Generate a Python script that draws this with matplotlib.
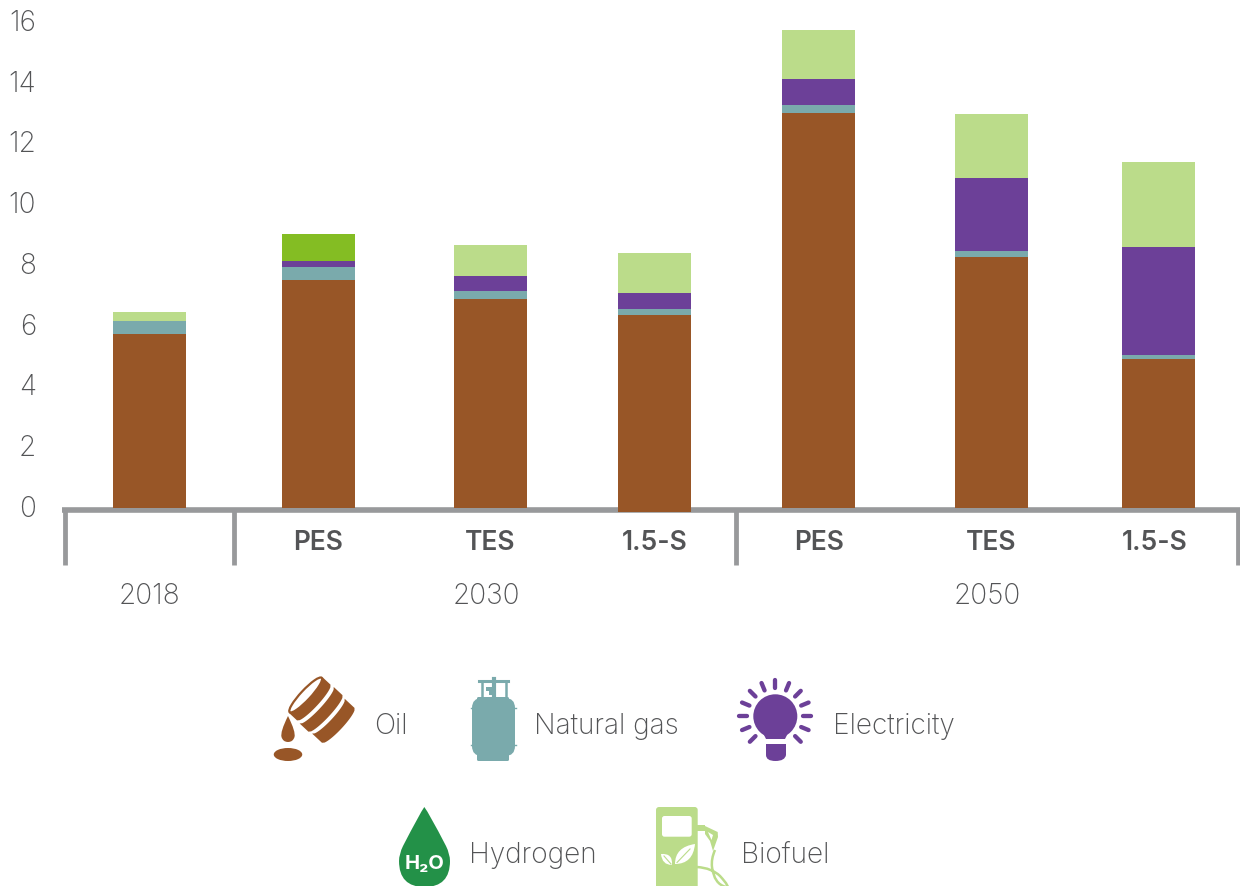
import numpy as np
import matplotlib
matplotlib.use("agg")
import matplotlib.pyplot as plt
from matplotlib.patches import Ellipse, FancyBboxPatch, PathPatch, Polygon
from matplotlib.path import Path
from matplotlib.transforms import Affine2D, offset_copy

plt.rcParams["font.family"] = ["Inter", "DejaVu Sans"]

bar_labels = ["", "PES", "TES", "1.5-S", "PES", "TES", "1.5-S"]
oil = [5.72, 7.50, 6.875, 6.35, 12.99, 8.26, 4.90]
oil_below = [0, 0, 0, -0.13, 0, 0, 0]
gas = [0.43, 0.43, 0.265, 0.20, 0.27, 0.19, 0.13]
electricity = [0, 0.195, 0.49, 0.52, 0.85, 2.41, 3.56]
hydrogen = [0, 0.885, 0, 0, 0, 0, 0]
biofuel = [0.30, 0, 1.02, 1.32, 1.61, 2.10, 2.79]

year_labels = ["2018", "2030", "2050"]

# horizontal layout in pixels of the 1240 wide canvas
bar_x = [149.5, 318.5, 490.5, 654.5, 818.5, 991.5, 1158.5]
label_x = [149.5, 318.5, 490.5, 654.5, 819.5, 991.5, 1155]
year_x = [149.5, 486, 987]
divider_x = [64.5, 233.5, 735.5, 1238]

BROWN = "#985627"
TEAL = "#7aaaac"
PURPLE = "#6c4098"
LIME = "#84bd23"
PALE = "#bbdc8a"
DROP = "#239148"
TEXT = "#535456"
AXIS = "#98999b"

W, H = 1240, 887
ZERO_Y = 508.7
PX_PER_UNIT = 30.4
PT = 0.72  # points per pixel at dpi 100
LABEL_SIZE = 20.2

fig = plt.figure(figsize=(W / 100, H / 100), dpi=100)
ax = fig.add_axes([62 / W, (H - ZERO_Y) / H, (W - 62) / W, ZERO_Y / H])
ax.set_xlim(62, 1240)
ax.set_ylim(0, ZERO_Y / PX_PER_UNIT)
ax.patch.set_alpha(0)

bottom = np.zeros(len(oil))
for values, colour in [(oil, BROWN), (gas, TEAL), (electricity, PURPLE),
                       (hydrogen, LIME), (biofuel, PALE)]:
    ax.bar(bar_x, values, 73, bottom=bottom, color=colour, linewidth=0, zorder=3)
    bottom += np.array(values)
ax.bar(bar_x, oil_below, 73, color=BROWN, linewidth=0, zorder=4, clip_on=False)

for side in ["top", "left", "right"]:
    ax.spines[side].set_visible(False)
ax.spines["bottom"].set_position(("outward", 2.2 * PT))
ax.spines["bottom"].set_linewidth(5.6 * PT)
ax.spines["bottom"].set_color(AXIS)
ax.spines["bottom"].set_capstyle("butt")

ax.set_yticks(range(0, 17, 2))
ax.tick_params(axis="y", length=0, pad=26 * PT, labelsize=LABEL_SIZE, labelcolor=TEXT)
ax.set_xticks(label_x, bar_labels)
ax.tick_params(axis="x", length=0, pad=19.3 * PT, labelsize=19, labelcolor=TEXT)
for lab in ax.get_xticklabels():
    lab.set_fontweight("semibold")
for lab in ax.get_yticklabels():
    lab.set_fontweight("light")
    lab.set_transform(offset_copy(lab.get_transform(), fig=fig, y=2.1, units="dots"))

drop = -(566 - ZERO_Y) / PX_PER_UNIT
ax.vlines(divider_x, 0, drop, color=AXIS, linewidth=4.8 * PT, clip_on=False, zorder=2)
for x, lab in zip(year_x, year_labels):
    ax.text(x, -(597 - ZERO_Y) / PX_PER_UNIT, lab, ha="center", va="center",
            fontsize=LABEL_SIZE, fontweight="light", color=TEXT, clip_on=False)

# legend drawn on an overlay measured in canvas pixels
lg = fig.add_axes([0, 0, 1, 1])
lg.set_xlim(0, W)
lg.set_ylim(H, 0)
lg.axis("off")


def leg_text(x, y, s):
    lg.text(x, y, s, ha="left", va="center", fontsize=LABEL_SIZE, fontweight="light", color=TEXT)


def smooth(pts, **kw):
    # quadratic outline: pts alternate on-curve / control points
    codes = [Path.MOVETO] + [Path.CURVE3] * (len(pts) - 1)
    return PathPatch(Path(pts, codes), **kw)


# oil barrel, built along its own axis then tipped over
tip = Affine2D().rotate_deg(43).translate(305.7, 696) + lg.transData
v = np.linspace(-1, 1, 25)
for u0, u1 in [(0, 11), (15, 27), (31, 44.5)]:
    front = u1 + 4.5 * np.sqrt(1 - v ** 2)
    back = u0 + 4.5 * np.sqrt(1 - v ** 2)
    half = 23.5 + 1.5 * np.sin(np.pi * np.clip(u1 / 48, 0, 1))
    pts = np.r_[np.c_[front, v * half], np.c_[back[::-1], v[::-1] * half]]
    lg.add_patch(Polygon(pts, color=BROWN, linewidth=0, transform=tip))
lg.add_patch(Ellipse((0, 0), 10, 47, fc="white", ec=BROWN, lw=1.6, transform=tip))
lg.add_patch(smooth([(288, 717), (280, 733), (281.5, 738), (283, 743), (288, 743),
                     (293, 743), (294.5, 738), (296, 733), (288, 717)], fc=BROWN, lw=0))
lg.add_patch(Ellipse((288, 755.5), 28.5, 13, color=BROWN, lw=0))
leg_text(374, 727, "Oil")

# gas bottle
lg.add_patch(FancyBboxPatch((477, 698), 32, 64, boxstyle="round,pad=0,rounding_size=1.5",
                            fc=TEAL, lw=0))
lg.add_patch(FancyBboxPatch((472, 699), 43, 58, boxstyle="round,pad=0,rounding_size=10",
                            fc=TEAL, lw=0))
lg.plot([479, 508], [682, 682], color=TEAL, lw=2.2)
lg.plot([481.5, 481.5], [682, 700], color=TEAL, lw=1.8)
lg.plot([505.5, 505.5], [682, 700], color=TEAL, lw=1.8)
lg.plot([493.5, 493.5], [680, 700], color=TEAL, lw=3)
lg.add_patch(Polygon([(486, 688), (493, 688), (493, 696), (489, 696), (489, 692), (486, 692)],
                     color=TEAL, lw=0))
lg.plot([471, 516], [709, 709], color=TEAL, lw=1)
lg.plot([471, 516], [746, 746], color=TEAL, lw=1)
leg_text(534, 727, "Natural gas")

# light bulb with rays
ray_angles = np.radians(np.arange(-45, 226, 22.5))
for a in ray_angles:
    lg.plot([775.3 + 28 * np.cos(a), 775.3 + 36 * np.cos(a)],
            [717.3 - 28 * np.sin(a), 717.3 - 36 * np.sin(a)],
            color=PURPLE, lw=3.1, solid_capstyle="round")
lg.add_patch(Ellipse((775.3, 717.3), 44, 44, color=PURPLE, lw=0))
lg.add_patch(Polygon([(760, 728), (791, 728), (785, 740), (766, 740)], color=PURPLE, lw=0))
lg.add_patch(smooth([(766, 745), (786, 745), (786, 745), (786, 756), (786, 756),
                     (785, 762), (775.5, 762), (766, 762), (766, 756), (766, 756), (766, 745)],
                    fc=PURPLE, lw=0))
leg_text(833, 727, "Electricity")

# water drop, runs off the bottom edge of the canvas
lg.add_patch(smooth([(424.3, 808), (420, 814), (403, 847), (399, 855), (399, 862),
                     (399, 888), (424.5, 888), (450, 888), (450, 862), (450, 855),
                     (446, 847), (429, 814), (424.3, 808)], fc=DROP, lw=0))
lg.text(424.3, 864, "H₂O", ha="center", va="center", fontsize=14.5, fontweight="bold", color="white")
leg_text(469, 856, "Hydrogen")

# fuel pump with leaves on the front
lg.add_patch(FancyBboxPatch((656, 808), 41.7, 100, boxstyle="round,pad=0,rounding_size=3",
                            fc=PALE, lw=0))
lg.add_patch(FancyBboxPatch((662, 817), 29.7, 20.7, boxstyle="round,pad=0,rounding_size=2.5",
                            fc="white", lw=0))
lg.add_patch(Polygon([(697, 826), (705, 826), (705, 832), (697, 832)], color=PALE, lw=0))
lg.add_patch(Polygon([(705, 827), (717.7, 833), (718, 838), (713, 852), (710, 842), (705, 835)],
                     color=PALE, lw=0))
lg.add_patch(Polygon([(708, 833), (713, 836), (711.5, 841)], color="white", lw=0))
lg.add_patch(smooth([(697, 868), (712, 869), (720, 877), (731, 889), (726, 888),
                     (714, 885), (712, 868), (711, 860), (715, 851)],
                    fc="none", ec=PALE, lw=1.8))
lg.add_patch(smooth([(675, 865), (675, 848), (695, 845), (693, 865), (675, 865)], fc="white", lw=0))
lg.plot([677, 690], [863.5, 850], color=PALE, lw=0.8)
lg.add_patch(smooth([(672, 866), (662, 866), (661, 855), (673, 854), (672, 866)], fc="white", lw=0))
lg.plot([664, 671], [857, 865], color=PALE, lw=0.8)
leg_text(741, 856, "Biofuel")

fig.savefig("out.png", dpi=100)
